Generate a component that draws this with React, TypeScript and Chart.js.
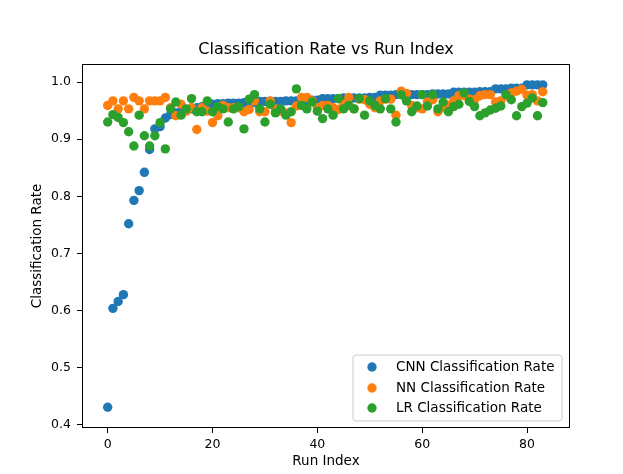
import React, { useEffect, useRef } from 'react';
import { Chart, registerables } from 'chart.js';

Chart.register(...registerables);

const chartTitle = 'Classification Rate vs Run Index';
const xAxisTitle = 'Run Index';
const yAxisTitle = 'Classification Rate';
const xTicks = [0, 20, 40, 60, 80];
const yTicks = [0.4, 0.5, 0.6, 0.7, 0.8, 0.9, 1.0];
const seriesNames = ['CNN Classification Rate', 'NN Classification Rate', 'LR Classification Rate'];
const seriesColors = ['#1f77b4', '#ff7f0e', '#2ca02c'];

const cnnRate = [
  0.431, 0.604, 0.616, 0.628, 0.752, 0.793, 0.81, 0.842, 0.882, 0.918,
  0.922, 0.937, 0.943, 0.946, 0.949, 0.951, 0.953, 0.955, 0.957, 0.959,
  0.961, 0.962, 0.962, 0.963, 0.963, 0.963, 0.964, 0.964, 0.964, 0.966,
  0.966, 0.966, 0.966, 0.966, 0.967, 0.967, 0.967, 0.967, 0.967, 0.968,
  0.968, 0.971, 0.971, 0.971, 0.971, 0.972, 0.972, 0.972, 0.972, 0.972,
  0.973, 0.973, 0.977, 0.977, 0.977, 0.978, 0.978, 0.978, 0.978, 0.978,
  0.978, 0.978, 0.979, 0.979, 0.979, 0.979, 0.982, 0.982, 0.982, 0.982,
  0.982, 0.983, 0.983, 0.983, 0.988, 0.988, 0.988, 0.989, 0.989, 0.989,
  0.995, 0.995, 0.995, 0.995,
];

const nnRate = [
  0.959, 0.967, 0.953, 0.967, 0.953, 0.973, 0.967, 0.953, 0.967, 0.967,
  0.967, 0.973, 0.955, 0.941, 0.961, 0.949, 0.955, 0.917, 0.955, 0.949,
  0.929, 0.941, 0.959, 0.955, 0.955, 0.955, 0.948, 0.952, 0.967, 0.948,
  0.948, 0.967, 0.953, 0.949, 0.946, 0.929, 0.958, 0.973, 0.973, 0.967,
  0.955, 0.959, 0.959, 0.955, 0.952, 0.961, 0.973, 0.953, 0.970, 0.969,
  0.961, 0.955, 0.967, 0.970, 0.970, 0.942, 0.984, 0.980, 0.959, 0.955,
  0.953, 0.965, 0.969, 0.948, 0.955, 0.959, 0.967, 0.976, 0.976, 0.970,
  0.969, 0.976, 0.978, 0.978, 0.965, 0.967, 0.976, 0.981, 0.984, 0.987,
  0.977, 0.978, 0.967, 0.983,
];

const lrRate = [
  0.930, 0.943, 0.938, 0.929, 0.913, 0.888, 0.942, 0.906, 0.888, 0.906,
  0.929, 0.883, 0.953, 0.965, 0.942, 0.953, 0.971, 0.948, 0.948, 0.967,
  0.948, 0.957, 0.953, 0.930, 0.953, 0.957, 0.918, 0.970, 0.978, 0.953,
  0.930, 0.961, 0.946, 0.953, 0.942, 0.948, 0.988, 0.959, 0.953, 0.965,
  0.949, 0.936, 0.953, 0.942, 0.971, 0.953, 0.959, 0.953, 0.971, 0.942,
  0.967, 0.959, 0.953, 0.971, 0.953, 0.930, 0.978, 0.967, 0.948, 0.958,
  0.978, 0.958, 0.978, 0.953, 0.965, 0.948, 0.957, 0.961, 0.981, 0.966,
  0.957, 0.941, 0.946, 0.951, 0.954, 0.958, 0.978, 0.969, 0.941, 0.957,
  0.963, 0.972, 0.941, 0.964,
];

const allSeries = [cnnRate, nnRate, lrRate];

const FONT = '"DejaVu Sans", sans-serif';

const framePlugin = {
  id: 'frameAndLegend',
  afterDatasetsDraw(chart: any) {
    const { ctx, chartArea } = chart;
    const { left, right, top, bottom } = chartArea;
    ctx.save();
    // frame
    ctx.strokeStyle = '#000';
    ctx.lineWidth = 1;
    ctx.strokeRect(left + 0.5, top + 0.5, right - left - 1, bottom - top - 1);

    // title
    ctx.fillStyle = '#000';
    ctx.font = `16px ${FONT}`;
    ctx.textAlign = 'center';
    ctx.textBaseline = 'middle';
    ctx.fillText(chartTitle, (left + right) / 2, 50);

    // legend
    const bw = 209;
    const bh = 66;
    const bx = right - 8 - bw;
    const by = bottom - 7 - bh;
    const r = 3;
    ctx.beginPath();
    ctx.moveTo(bx + r, by);
    ctx.lineTo(bx + bw - r, by);
    ctx.quadraticCurveTo(bx + bw, by, bx + bw, by + r);
    ctx.lineTo(bx + bw, by + bh - r);
    ctx.quadraticCurveTo(bx + bw, by + bh, bx + bw - r, by + bh);
    ctx.lineTo(bx + r, by + bh);
    ctx.quadraticCurveTo(bx, by + bh, bx, by + bh - r);
    ctx.lineTo(bx, by + r);
    ctx.quadraticCurveTo(bx, by, bx + r, by);
    ctx.closePath();
    ctx.fillStyle = 'rgba(255,255,255,0.8)';
    ctx.fill();
    ctx.strokeStyle = '#cccccc';
    ctx.lineWidth = 1;
    ctx.stroke();

    const rows = [12, 33, 53];
    chart.data.datasets.forEach((ds: any, i: number) => {
      const y = by + rows[i];
      ctx.beginPath();
      ctx.arc(bx + 19, y, 4.7, 0, Math.PI * 2);
      ctx.fillStyle = ds.backgroundColor;
      ctx.fill();
      ctx.fillStyle = '#000';
      ctx.font = `13.5px ${FONT}`;
      ctx.textAlign = 'left';
      ctx.textBaseline = 'middle';
      ctx.fillText(ds.label, bx + 43, y);
    });
    ctx.restore();
  },
};

export default function App() {
  const ref = useRef<HTMLCanvasElement>(null);

  useEffect(() => {
    document.body.style.margin = '0';
    const canvas = ref.current;
    if (!canvas) return;
    const datasets = allSeries.map((vals, si) => ({
      label: seriesNames[si],
      data: vals.map((v, i) => ({ x: i, y: v })),
      backgroundColor: seriesColors[si],
      borderWidth: 0,
      pointRadius: 4.7,
      pointHoverRadius: 4.7,
      order: 3 - si,
    }));

    const chart = new Chart(canvas, {
      type: 'scatter',
      data: { datasets },
      plugins: [framePlugin],
      options: {
        responsive: false,
        animation: false,
        events: [],
        layout: { padding: { top: 64, right: 53, left: 0, bottom: 0 } },
        plugins: {
          legend: { display: false },
          title: { display: false },
          tooltip: { enabled: false },
        },
        scales: {
          x: {
            type: 'linear',
            min: -4.9,
            max: 88.2,
            afterFit(scale: any) {
              scale.height = 46;
            },
            afterBuildTicks(scale: any) {
              scale.ticks = xTicks.map((v) => ({ value: v }));
            },
            border: { display: false },
            grid: {
              drawOnChartArea: false,
              drawTicks: true,
              tickLength: 5,
              color: '#000',
              lineWidth: 1,
            },
            ticks: {
              color: '#000',
              padding: 4,
              maxRotation: 0,
              font: { family: FONT, size: 12.5 },
              callback: (v: any) => String(v),
            },
            title: {
              display: true,
              text: xAxisTitle,
              color: '#000',
              font: { family: FONT, size: 13.5 },
              padding: { top: 0, bottom: 4 },
            },
          },
          y: {
            type: 'linear',
            min: 0.3947,
            max: 1.0315,
            afterFit(scale: any) {
              scale.width = 82;
            },
            afterBuildTicks(scale: any) {
              scale.ticks = yTicks.map((v) => ({ value: v }));
            },
            border: { display: false },
            grid: {
              drawOnChartArea: false,
              drawTicks: true,
              tickLength: 5,
              color: '#000',
              lineWidth: 1,
            },
            ticks: {
              color: '#000',
              padding: 6,
              font: { family: FONT, size: 12.5 },
              callback: (v: any) => Number(v).toFixed(1),
            },
            title: {
              display: true,
              text: yAxisTitle,
              color: '#000',
              font: { family: FONT, size: 13.5 },
              padding: { top: 29, bottom: 0 },
            },
          },
        },
      },
    });
    return () => chart.destroy();
  }, []);

  return (
    <div style={{ width: 623, height: 474, background: '#fff' }}>
      <canvas ref={ref} width={623} height={474} />
    </div>
  );
}
